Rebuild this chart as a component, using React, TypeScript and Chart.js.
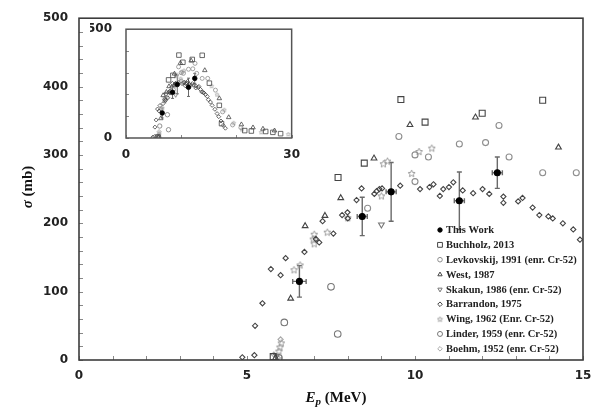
import React, { useEffect, useRef } from 'react';
import { Chart, registerables } from 'chart.js';
Chart.register(...registerables);

// ---------------- Data ----------------
const thisWorkE = [6.56, 8.43, 9.29, 11.32, 12.45];
const thisWorkSigma = [115, 210, 246, 233, 274];
const thisWorkDSigma = [23, 28, 43, 42, 23];
const thisWorkDE = [0.2, 0.15, 0.15, 0.15, 0.15];

const buchholzE = [5.78, 7.71, 8.49, 9.58, 10.3, 12.0, 13.8, 15.1, 16.9, 17.3, 21.5, 22.7, 25.3, 26.6, 28.0];
const buchholzSigma = [5, 267, 288, 381, 348, 361, 380, 252, 150, 66, 34, 32, 30, 26, 20];

const levkovskijE = [8.59, 9.52, 10.0, 10.0, 10.4, 11.32, 12.1, 12.5, 12.8, 13.8, 14.8, 16.2, 17.5, 19.3, 20.8];
const levkovskijSigma = [222, 327, 300, 261, 297, 316, 318, 343, 297, 274, 274, 220, 120, 60, 48];

const westE = [5.85, 6.3, 6.73, 7.32, 7.79, 8.78, 9.85, 11.8, 14.27, 16.9, 18.6, 20.9, 23.0, 24.8, 26.9];
const westSigma = [3, 90, 196, 211, 237, 295, 344, 355, 311, 182, 95, 62, 48, 42, 34];

const skakunE = [5.88, 9.0];
const skakunSigma = [6, 198];

const barrandonE = [4.86, 5.22, 5.24, 5.46, 5.71, 6.0, 6.15, 6.71, 7.05, 7.15, 7.25, 7.57, 7.83, 7.99, 8.0, 8.26, 8.41, 8.79, 8.86, 8.94, 9.02, 9.56, 10.15, 10.43, 10.55, 10.74, 10.84, 11.01, 11.14, 11.42, 11.73, 12.01, 12.21, 12.63, 12.63, 13.07, 13.2, 13.5, 13.7, 13.97, 14.1, 14.4, 14.71, 14.91, 15.3, 15.6, 16.1, 16.5, 16.8, 17.2, 17.6, 18.0];
const barrandonSigma = [4, 7, 50, 83, 133, 124, 149, 158, 177, 172, 203, 185, 212, 216, 207, 234, 251, 243, 247, 250, 251, 255, 250, 253, 257, 240, 250, 253, 260, 248, 244, 250, 243, 239, 230, 232, 237, 223, 212, 210, 207, 200, 191, 176, 165, 150, 132, 112, 98, 78, 58, 45];

const wingE = [5.95, 5.98, 6.02, 6.4, 6.58, 6.97, 7.0, 7.0, 7.39, 8.0, 9.0, 9.06, 9.18, 9.9, 10.12, 10.5, 15.5, 16.5, 17.8, 19.5, 21.0, 24.5, 29.4];
const wingSigma = [13, 19, 25, 132, 139, 177, 170, 184, 187, 208, 240, 287, 291, 273, 305, 310, 240, 200, 130, 70, 40, 27, 18];

const linderE = [5.95, 6.11, 7.5, 7.7];
const linderSigma = [3, 55, 107, 38];

const boehmE = [5.8, 5.92, 6.0];
const boehmSigma = [8, 3, 30];

const legendLabels = [
  'This Work',
  'Buchholz, 2013',
  'Levkovskij, 1991 (enr. Cr-52)',
  'West, 1987',
  'Skakun, 1986 (enr. Cr-52)',
  'Barrandon, 1975',
  'Wing, 1962 (Enr. Cr-52)',
  'Linder, 1959 (enr. Cr-52)',
  'Boehm, 1952 (enr. Cr-52)',
];

const mainXTicks = [0, 5, 10, 15];
const mainYTicks = [0, 100, 200, 300, 400, 500];
const insetXTicks = [0, 30];
const insetYTicks = [0, 500];

// ---------------- Styling ----------------
type Series = {
  label: string; xs: number[]; ys: number[]; style: string; color: string; fill: string;
  r: number; ir: number; lr: number; rot?: number;
};

const series: Series[] = [
  { label: legendLabels[0], xs: thisWorkE, ys: thisWorkSigma, style: 'circle', color: '#000', fill: '#000', r: 3, ir: 2.3, lr: 2.2 },
  { label: legendLabels[1], xs: buchholzE, ys: buchholzSigma, style: 'rect', color: '#444', fill: 'rgba(0,0,0,0)', r: 4.2, ir: 3.2, lr: 3.4 },
  { label: legendLabels[2], xs: levkovskijE, ys: levkovskijSigma, style: 'circle', color: '#8e8e8e', fill: 'rgba(0,0,0,0)', r: 3, ir: 2, lr: 2.3 },
  { label: legendLabels[3], xs: westE, ys: westSigma, style: 'triangle', color: '#444', fill: 'rgba(0,0,0,0)', r: 3.3, ir: 2.6, lr: 2.5 },
  { label: legendLabels[4], xs: skakunE, ys: skakunSigma, style: 'triangle', color: '#777', fill: 'rgba(0,0,0,0)', r: 3.3, ir: 2.4, lr: 2.5, rot: 180 },
  { label: legendLabels[5], xs: barrandonE, ys: barrandonSigma, style: 'rectRot', color: '#444', fill: 'rgba(0,0,0,0)', r: 2.6, ir: 2, lr: 2.3 },
  { label: legendLabels[6], xs: wingE, ys: wingSigma, style: 'star', color: '#9a9a9a', fill: 'rgba(0,0,0,0)', r: 4, ir: 2.5, lr: 2.5 },
  { label: legendLabels[7], xs: linderE, ys: linderSigma, style: 'circle', color: '#777', fill: 'rgba(0,0,0,0)', r: 3.3, ir: 2.2, lr: 2.5 },
  { label: legendLabels[8], xs: boehmE, ys: boehmSigma, style: 'rectRot', color: '#aaa', fill: 'rgba(0,0,0,0)', r: 2.6, ir: 2, lr: 2.3 },
];

function makeStar(size: number, color: string, lw = 1): HTMLCanvasElement {
  const c = document.createElement('canvas');
  c.width = size; c.height = size;
  const g = c.getContext('2d')!;
  const cx = size / 2, cy = size / 2 + 0.3, R = size / 2 - 0.8, r = R * 0.45;
  g.beginPath();
  for (let i = 0; i < 10; i++) {
    const a = -Math.PI / 2 + (i * Math.PI) / 5;
    const rr = i % 2 === 0 ? R : r;
    const px = cx + rr * Math.cos(a), py = cy + rr * Math.sin(a);
    if (i === 0) g.moveTo(px, py); else g.lineTo(px, py);
  }
  g.closePath();
  g.strokeStyle = color; g.lineWidth = lw; g.stroke();
  return c;
}

function drawMarker(ctx: CanvasRenderingContext2D, s: Series, x: number, y: number, r: number, star: HTMLCanvasElement) {
  ctx.save();
  ctx.strokeStyle = s.color; ctx.fillStyle = s.fill; ctx.lineWidth = 1;
  ctx.beginPath();
  if (s.style === 'circle') {
    ctx.arc(x, y, r, 0, Math.PI * 2);
  } else if (s.style === 'rect') {
    const h = r * Math.SQRT1_2;
    ctx.rect(x - h, y - h, 2 * h, 2 * h);
  } else if (s.style === 'triangle') {
    const dir = s.rot ? -1 : 1;
    ctx.moveTo(x, y - dir * r);
    ctx.lineTo(x + r * 0.866, y + dir * r * 0.5);
    ctx.lineTo(x - r * 0.866, y + dir * r * 0.5);
    ctx.closePath();
  } else if (s.style === 'rectRot') {
    ctx.moveTo(x, y - r); ctx.lineTo(x + r, y); ctx.lineTo(x, y + r); ctx.lineTo(x - r, y); ctx.closePath();
  } else if (s.style === 'star') {
    ctx.drawImage(star, x - star.width / 2, y - star.height / 2);
    ctx.restore();
    return;
  }
  ctx.fill(); ctx.stroke();
  ctx.restore();
}

function buildDatasets(inset: boolean, star: HTMLCanvasElement) {
  return series.map((s) => ({
    label: s.label,
    data: s.xs.map((x, i) => ({ x, y: s.ys[i] })).filter((p) => inset || p.x <= 15),
    pointStyle: s.style === 'star' ? (star as any) : s.style,
    rotation: s.rot || 0,
    pointRotation: s.rot || 0,
    pointRadius: inset ? s.ir : s.r,
    borderColor: s.color,
    backgroundColor: s.fill,
    pointBorderWidth: inset ? 0.8 : 1.1,
    showLine: false,
  }));
}

function errorBarsPlugin(lw: number, cap: number) {
  return {
    id: 'errorBars',
    beforeDatasetsDraw(chart: any) {
      const { ctx, scales } = chart;
      const xs = scales.x, ys = scales.y;
      ctx.save();
      ctx.strokeStyle = '#6a6a6a';
      ctx.lineWidth = lw;
      thisWorkE.forEach((e, i) => {
        const x = xs.getPixelForValue(e);
        const y = ys.getPixelForValue(thisWorkSigma[i]);
        const y1 = ys.getPixelForValue(thisWorkSigma[i] + thisWorkDSigma[i]);
        const y2 = ys.getPixelForValue(thisWorkSigma[i] - thisWorkDSigma[i]);
        const x1 = xs.getPixelForValue(e - thisWorkDE[i]);
        const x2 = xs.getPixelForValue(e + thisWorkDE[i]);
        ctx.beginPath();
        ctx.moveTo(x, y1); ctx.lineTo(x, y2);
        ctx.moveTo(x - cap, y1); ctx.lineTo(x + cap, y1);
        ctx.moveTo(x - cap, y2); ctx.lineTo(x + cap, y2);
        ctx.moveTo(x1, y); ctx.lineTo(x2, y);
        ctx.moveTo(x1, y - cap); ctx.lineTo(x1, y + cap);
        ctx.moveTo(x2, y - cap); ctx.lineTo(x2, y + cap);
        ctx.stroke();
      });
      ctx.restore();
    },
  };
}

function framePlugin(xStep: number, yStep: number, tickLen: number, color: string, lw: number, xMax: number, yMax: number) {
  return {
    id: 'frame',
    afterDraw(chart: any) {
      const { ctx, chartArea: a, scales } = chart;
      ctx.save();
      ctx.strokeStyle = '#888';
      ctx.lineWidth = 1;
      ctx.beginPath();
      for (let v = 0; v <= xMax + 1e-9; v += xStep) {
        const px = Math.round(scales.x.getPixelForValue(v)) + 0.5;
        ctx.moveTo(px, a.bottom); ctx.lineTo(px, a.bottom - tickLen);
      }
      for (let v = 0; v <= yMax + 1e-9; v += yStep) {
        const py = Math.round(scales.y.getPixelForValue(v)) + 0.5;
        ctx.moveTo(a.left, py); ctx.lineTo(a.left + tickLen, py);
      }
      ctx.stroke();
      ctx.strokeStyle = color;
      ctx.lineWidth = lw;
      ctx.strokeRect(a.left, a.top, a.right - a.left, a.bottom - a.top);
      ctx.restore();
    },
  };
}

function titlesPlugin() {
  return {
    id: 'titles',
    afterDraw(chart: any) {
      const ctx: CanvasRenderingContext2D = chart.ctx;
      ctx.save();
      ctx.fillStyle = '#111';
      // X title: E_p (MeV)
      const fItal = 'italic bold 15px "Liberation Serif"';
      const fSub = 'italic bold 11px "Liberation Serif"';
      const fReg = 'bold 15px "Liberation Serif"';
      ctx.font = fItal; const wE = ctx.measureText('E').width;
      ctx.font = fSub; const wP = ctx.measureText('p').width;
      ctx.font = fReg; const wR = ctx.measureText(' (MeV)').width;
      const total = wE + wP + wR;
      let x = 336 - total / 2;
      const base = 402;
      ctx.textBaseline = 'alphabetic';
      ctx.textAlign = 'left';
      ctx.font = fItal; ctx.fillText('E', x, base); x += wE;
      ctx.font = fSub; ctx.fillText('p', x, base + 3); x += wP;
      ctx.font = fReg; ctx.fillText(' (MeV)', x, base);
      // Y title: σ (mb)
      ctx.translate(28, 187);
      ctx.rotate(-Math.PI / 2);
      ctx.font = fItal; const wS = ctx.measureText('σ').width;
      ctx.font = fReg; const wM = ctx.measureText(' (mb)').width;
      let yx = -(wS + wM) / 2;
      ctx.textBaseline = 'middle';
      ctx.font = fItal; ctx.fillText('σ', yx, 0); yx += wS;
      ctx.font = fReg; ctx.fillText(' (mb)', yx, 0);
      ctx.restore();
    },
  };
}

function legendPlugin(star: HTMLCanvasElement) {
  return {
    id: 'customLegend',
    afterDraw(chart: any) {
      const ctx: CanvasRenderingContext2D = chart.ctx;
      ctx.save();
      ctx.font = 'bold 10.5px "Liberation Serif"';
      ctx.fillStyle = '#222';
      ctx.textBaseline = 'middle';
      ctx.textAlign = 'left';
      series.forEach((s, i) => {
        const y = 230 + i * 14.85;
        drawMarker(ctx, s, 440, y, s.lr, star);
        ctx.fillText(s.label, 446, y + 0.5);
      });
      ctx.restore();
    },
  };
}

const tickFont = { family: '"DejaVu Sans"', weight: 'bold' as const, size: 12 };

export default function App() {
  const mainRef = useRef<HTMLCanvasElement>(null);
  const insetRef = useRef<HTMLCanvasElement>(null);

  useEffect(() => {
    const starBig = makeStar(9, '#9a9a9a');
    const starSmall = makeStar(6, '#aaaaaa', 0.8);
    const starLegend = makeStar(7, '#9a9a9a', 0.9);

    const main = new Chart(mainRef.current!, {
      type: 'scatter',
      data: { datasets: buildDatasets(false, starBig) as any },
      options: {
        responsive: false,
        animation: false,
        events: [],
        layout: { padding: { top: 13, right: 19, left: 0, bottom: 0 }, autoPadding: false } as any,
        plugins: { legend: { display: false }, tooltip: { enabled: false } },
        scales: {
          x: {
            type: 'linear', min: 0, max: 15,
            afterBuildTicks: (s: any) => { s.ticks = mainXTicks.map((v) => ({ value: v })); },
            ticks: { font: tickFont, color: '#222', padding: 9, maxRotation: 0, autoSkip: false },
            grid: { display: false, drawTicks: false },
            border: { display: false },
            afterFit: (s: any) => { s.height = 56; },
          },
          y: {
            type: 'linear', min: 0, max: 500,
            afterBuildTicks: (s: any) => { s.ticks = mainYTicks.map((v) => ({ value: v })); },
            ticks: { font: tickFont, color: '#222', padding: 11, autoSkip: false },
            grid: { display: false, drawTicks: false },
            border: { display: false },
            afterFit: (s: any) => { s.width = 79; },
          },
        },
      },
      plugins: [errorBarsPlugin(1.4, 2.5), framePlugin(1, 20, 4, '#3c3c3c', 1.6, 15, 500), titlesPlugin(), legendPlugin(starLegend)],
    });

    const inset = new Chart(insetRef.current!, {
      type: 'scatter',
      data: { datasets: buildDatasets(true, starSmall) as any },
      options: {
        responsive: false,
        animation: false,
        events: [],
        layout: { padding: { top: 13, right: 10, left: 0, bottom: 0 }, autoPadding: false } as any,
        plugins: { legend: { display: false }, tooltip: { enabled: false } },
        scales: {
          x: {
            type: 'linear', min: 0, max: 30,
            afterBuildTicks: (s: any) => { s.ticks = insetXTicks.map((v) => ({ value: v })); },
            ticks: { font: tickFont, color: '#222', padding: 10, maxRotation: 0, autoSkip: false },
            grid: { display: false, drawTicks: false },
            border: { display: false },
            afterFit: (s: any) => { s.height = 27; },
          },
          y: {
            type: 'linear', min: 0, max: 500,
            afterBuildTicks: (s: any) => { s.ticks = insetYTicks.map((v) => ({ value: v })); },
            ticks: { font: tickFont, color: '#222', padding: 14, autoSkip: false },
            grid: { display: false, drawTicks: false },
            border: { display: false },
            afterFit: (s: any) => { s.width = 36; },
          },
        },
      },
      plugins: [errorBarsPlugin(1, 1.5), framePlugin(10, 100, 3, '#555', 1.5, 30, 500)],
    });

    return () => { main.destroy(); inset.destroy(); };
  }, []);

  return (
    <div style={{ position: 'absolute', left: 0, top: 0, width: 602, height: 416, background: '#fff' }}>
      <canvas ref={mainRef} width={602} height={416} style={{ position: 'absolute', left: 0, top: 0 }} />
      <canvas ref={insetRef} width={220} height={157} style={{ position: 'absolute', left: 90, top: 8 }} />
    </div>
  );
}
